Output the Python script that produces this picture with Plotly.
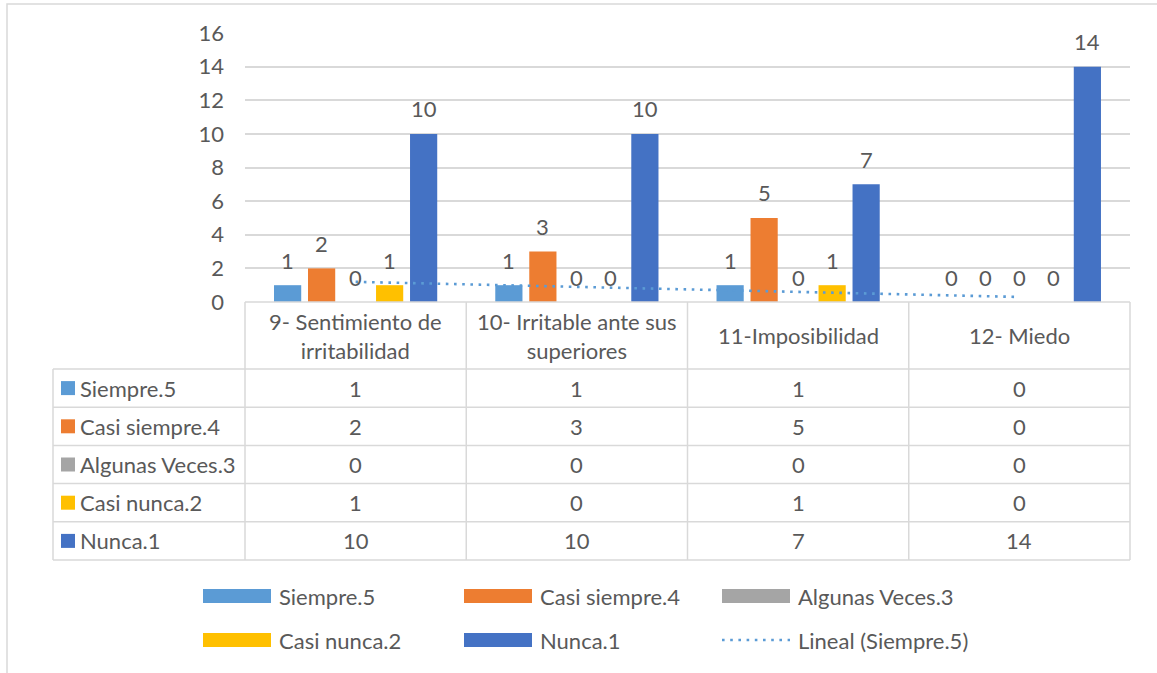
import textwrap
import numpy as np
import plotly.graph_objects as go

# ---------------- data ----------------
categories = ["9- Sentimiento de irritabilidad", "10- Irritable ante sus superiores",
              "11-Imposibilidad", "12- Miedo"]
series_names = ["Siempre.5", "Casi siempre.4", "Algunas Veces.3", "Casi nunca.2", "Nunca.1"]
siempre = [1, 1, 1, 0]
casi_siempre = [2, 3, 5, 0]
algunas_veces = [0, 0, 0, 0]
casi_nunca = [1, 0, 1, 0]
nunca = [10, 10, 7, 14]
trend_name = "Lineal (Siempre.5)"
y_ticks = [0, 2, 4, 6, 8, 10, 12, 14, 16]

series_values = [siempre, casi_siempre, algunas_veces, casi_nunca, nunca]
colors = ["#5B9BD5", "#ED7D31", "#A5A5A5", "#FFC000", "#4472C4"]

# ---------------- layout constants ----------------
W, H = 1157, 673
ML, MR, MT, MB = 245, 27, 33, 371
PW, PH = W - ML - MR, H - MT - MB
FONT = "Lato"
FS = 22
TXT = "#595959"
GRID = "#D9D9D9"
BARGAP = 0.2316
GROUPGAP = 0.2


def px(xp):
    return (xp - ML) / PW


def py(yp):
    return (H - MB - yp) / PH


fig = go.Figure()
for name, vals, col in zip(series_names, series_values, colors):
    fig.add_trace(go.Bar(x=categories, y=vals, name=name, marker=dict(color=col, line=dict(width=0)),
                         showlegend=False))

# linear trendline of Siempre.5
xi = np.arange(1, len(categories) + 1)
slope, intercept = np.polyfit(xi, siempre, 1)
trend = slope * xi + intercept
fig.add_trace(go.Scatter(x=categories, y=trend, mode="lines", name=trend_name, showlegend=False,
                         line=dict(color="#5B9BD5", width=2.6, dash="2.6px,5.6px")))

annotations = []
shapes = []

# data labels
ncat = len(categories)
slot = PW / ncat * (1 - BARGAP) / len(series_names)
for k, vals in enumerate(series_values):
    for c, v in zip(categories, vals):
        annotations.append(dict(x=c, y=v, xref="x", yref="y", text=str(v), showarrow=False,
                                xshift=(k - 2) * slot, yshift=25, yanchor="middle",
                                font=dict(family=FONT, size=FS, color=TXT)))

# ---------------- data table ----------------
header_top, header_bot = 302, 369
row_h = (560 - 369) / len(series_names)
row_lines = [header_bot + i * row_h for i in range(len(series_names) + 1)]
tbl_left = 53
line_style = dict(color=GRID, width=1.5)

shapes.append(dict(type="line", xref="paper", yref="paper", x0=0, x1=1,
                   y0=py(header_top), y1=py(header_top), line=line_style))
for i in range(ncat + 1):
    xp = i / ncat
    shapes.append(dict(type="line", xref="paper", yref="paper", x0=xp, x1=xp,
                       y0=py(header_top), y1=py(row_lines[-1]), line=line_style))
shapes.append(dict(type="line", xref="paper", yref="paper", x0=px(tbl_left), x1=px(tbl_left),
                   y0=py(row_lines[0]), y1=py(row_lines[-1]), line=line_style))
for yl in row_lines:
    shapes.append(dict(type="line", xref="paper", yref="paper", x0=px(tbl_left), x1=1,
                       y0=py(yl), y1=py(yl), line=line_style))

# header texts
for c in categories:
    annotations.append(dict(x=c, xref="x", y=py((header_top + header_bot) / 2), yref="paper",
                            text="<br>".join(textwrap.wrap(c, 22)), showarrow=False,
                            yanchor="middle", align="center",
                            font=dict(family=FONT, size=FS, color=TXT)))

# body rows
for r, (name, vals, col) in enumerate(zip(series_names, series_values, colors)):
    yc = (row_lines[r] + row_lines[r + 1]) / 2
    shapes.append(dict(type="rect", xref="paper", yref="paper", x0=px(61), x1=px(75),
                       y0=py(yc - 7), y1=py(yc + 7), fillcolor=col, line=dict(width=0)))
    annotations.append(dict(x=px(78), xref="paper", y=py(yc), yref="paper", text=name,
                            showarrow=False, xanchor="left", yanchor="middle",
                            font=dict(family=FONT, size=FS, color=TXT)))
    for c, v in zip(categories, vals):
        annotations.append(dict(x=c, xref="x", y=py(yc), yref="paper", text=str(v),
                                showarrow=False, yanchor="middle",
                                font=dict(family=FONT, size=FS, color=TXT)))

# ---------------- custom legend ----------------
leg_cols = [203, 464, 722]
leg_rows = [596, 640]
entries = [(n, c) for n, c in zip(series_names, colors)] + [(trend_name, None)]
for i, (name, col) in enumerate(entries):
    x0 = leg_cols[i % 3]
    yc = leg_rows[i // 3]
    if col is not None:
        shapes.append(dict(type="rect", xref="paper", yref="paper", x0=px(x0), x1=px(x0 + 68),
                           y0=py(yc - 7), y1=py(yc + 7), fillcolor=col, line=dict(width=0)))
    else:
        shapes.append(dict(type="line", xref="paper", yref="paper", x0=px(x0), x1=px(x0 + 68),
                           y0=py(yc), y1=py(yc),
                           line=dict(color="#5B9BD5", width=2.6, dash="2.6px,5.6px")))
    annotations.append(dict(x=px(x0 + 74), xref="paper", y=py(yc), yref="paper", text=name,
                            showarrow=False, xanchor="left", yanchor="middle",
                            font=dict(family=FONT, size=FS, color=TXT)))

# chart border
shapes.append(dict(type="rect", xref="paper", yref="paper", x0=px(7), x1=px(W + 10),
                   y0=py(H + 10), y1=py(4), line=dict(color=GRID, width=1.5),
                   fillcolor="rgba(0,0,0,0)", layer="below"))

fig.update_layout(
    width=W, height=H,
    margin=dict(l=ML, r=MR, t=MT, b=MB, autoexpand=False),
    paper_bgcolor="white", plot_bgcolor="white",
    barmode="group", bargap=BARGAP, bargroupgap=GROUPGAP,
    showlegend=False,
    font=dict(family=FONT, size=FS, color=TXT),
    xaxis=dict(range=[-0.5, ncat - 0.5], showticklabels=False, showgrid=False,
               zeroline=False, showline=False, fixedrange=True),
    yaxis=dict(range=[0, 16], tickvals=y_ticks, showgrid=True, gridcolor=GRID, gridwidth=1.5,
               zeroline=False, showline=False, ticks="", ticklabelstandoff=20,
               tickfont=dict(family=FONT, size=FS, color=TXT)),
    shapes=shapes,
    annotations=annotations,
)

fig.write_html("out.html", config={"displayModeBar": False},
               post_script="document.body.style.margin='0';document.body.style.overflow='hidden';")
